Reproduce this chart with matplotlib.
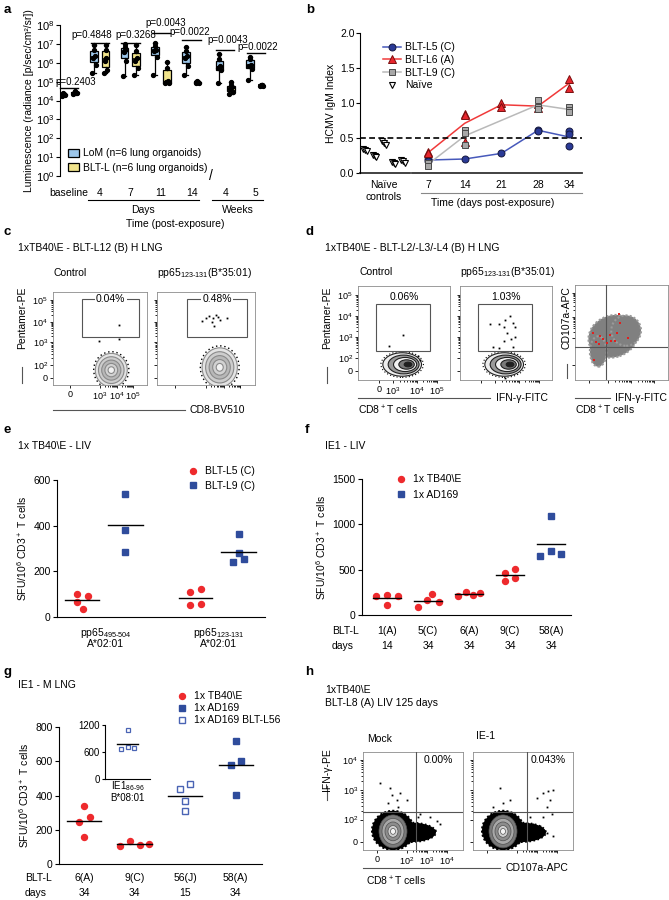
import numpy as np
import matplotlib.pyplot as plt
from matplotlib.patches import Rectangle, Ellipse
from matplotlib.lines import Line2D

plt.rcParams['font.family'] = ['Liberation Sans', 'DejaVu Sans']
plt.rcParams['font.size'] = 7.5
plt.rcParams['mathtext.fontset'] = 'custom'
plt.rcParams['mathtext.rm'] = 'Liberation Sans'
plt.rcParams['mathtext.default'] = 'regular'

# ---------------- data ----------------
# a: luminescence, six lung organoids per group
A_GROUPS = ['baseline', '4', '7', '11', '14', '4', '5']
A_LOM = [[1.8e4, 1.9e4, 2.0e4, 2.1e4, 2.3e4, 2.5e4],
         [3e5, 8e5, 1.8e6, 2.2e6, 5e6, 9e6],
         [2e5, 1.2e6, 3.5e6, 4.5e6, 7e6, 1e7],
         [2.3e5, 2e6, 4e6, 5e6, 8e6, 1.1e7],
         [2.3e5, 7e5, 1.8e6, 2.2e6, 4e6, 7e6],
         [8e4, 4e5, 5.5e5, 7e5, 1.5e6, 3e6],
         [1.2e5, 4.5e5, 7e5, 8e5, 1.6e6, 2e6]]
A_BLT = [[2.2e4, 2.4e4, 2.5e4, 2.6e4, 2.8e4, 3.0e4],
         [3e5, 4e5, 1.2e6, 1.8e6, 5e6, 9e6],
         [2.3e5, 5e5, 1.3e6, 1.8e6, 4e6, 9e6],
         [8e4, 8.5e4, 9e4, 1.1e5, 5e5, 1.1e6],
         [8e4, 8.5e4, 9e4, 9.5e4, 1e5, 1.05e5],
         [2.2e4, 2.8e4, 4e4, 5e4, 6.5e4, 1e5],
         [6e4, 6.2e4, 6.5e4, 6.5e4, 6.8e4, 7e4]]
A_PVALS = ['p=0.2403', 'p=0.4848', 'p=0.3268', 'p=0.0043', 'p=0.0022', 'p=0.0043', 'p=0.0022']
A_BRACKET = [4.5e4, 1.15e7, 1.15e7, 4e7, 1.7e7, 4.7e6, 3.2e6]
A_PTEXT_Y = [1.0e5, 3.0e7, 3.0e7, 1.25e8, 4.5e7, 1.7e7, 7.0e6]

# b: HCMV IgM index
B_DAYS = [7, 14, 21, 28, 34]
B_L5 = [[0.20, 0.17], [0.20], [0.28], [0.62, 0.60], [0.60, 0.56, 0.38]]
B_L6 = [[0.30, 0.28], [0.85, 0.83, 0.45], [1.00, 0.95], [0.98, 0.93], [1.35, 1.22]]
B_L9 = [[0.15, 0.10], [0.62, 0.57, 0.40], [], [1.05, 0.95, 0.92], [0.95, 0.90, 0.87]]
B_NAIVE = [[0.35, 0.33, 0.31], [0.26, 0.24, 0.23], [0.46, 0.43, 0.40],
           [0.16, 0.14, 0.13], [0.18, 0.17, 0.15]]

# e: SFU per 10^6 CD3+ T cells
E_EPITOPES = ['495-504', '123-131']
E_L5 = [[99, 92, 66, 34], [110, 124, 51, 56]]
E_L9 = [[539, 383, 285], [363, 282, 239, 256]]

# f
F_CATS = ['1(A)', '5(C)', '6(A)', '9(C)', '58(A)']
F_DAYS = ['14', '34', '34', '34', '34']
F_VALUES = [[210, 221, 210, 111], [92, 236, 140, 166], [214, 258, 221, 240],
            [461, 380, 508, 413], [1095, 652, 711, 674]]
F_VIRUS = ['TB40', 'TB40', 'TB40', 'TB40', 'AD169']

# g
G_CATS = ['6(A)', '9(C)', '56(J)', '58(A)']
G_DAYS = ['34', '34', '15', '34']
G_VALUES = [[337, 273, 244, 157], [105, 134, 110, 116], [436, 465, 368, 308], [721, 581, 599, 401]]
G_VIRUS = ['TB40', 'TB40', 'L56', 'AD169']
G_INSET = [1098, 656, 714, 678]

# flow cytometry gated events (fractions of plot area)
C1_EVENTS = [(0.70, 0.64), (0.49, 0.47), (0.70, 0.49)]
C2_EVENTS = [(0.46, 0.69), (0.50, 0.72), (0.53, 0.74), (0.56, 0.68), (0.58, 0.63),
             (0.62, 0.73), (0.64, 0.70), (0.71, 0.72), (0.60, 0.75), (0.57, 0.72)]
D1_EVENTS = [(0.49, 0.48), (0.34, 0.365), (0.655, 0.255), (0.674, 0.213)]
D2_EVENTS = [(0.33, 0.60), (0.42, 0.60), (0.49, 0.64), (0.54, 0.68), (0.58, 0.61),
             (0.60, 0.56), (0.48, 0.56), (0.51, 0.50), (0.60, 0.46), (0.55, 0.44),
             (0.48, 0.41), (0.36, 0.355), (0.42, 0.34), (0.58, 0.355), (0.49, 0.02)]
D3_RED = [(0.19, 0.49), (0.23, 0.40), (0.27, 0.46), (0.26, 0.38), (0.30, 0.43),
          (0.38, 0.47), (0.39, 0.41), (0.43, 0.41), (0.455, 0.50), (0.47, 0.70),
          (0.48, 0.60), (0.57, 0.445), (0.20, 0.21), (0.34, 0.39)]
H1_EVENTS = [(0.17, 0.68), (0.27, 0.63), (0.29, 0.56), (0.34, 0.51), (0.25, 0.48),
             (0.37, 0.58), (0.44, 0.51), (0.35, 0.44), (0.57, 0.37), (0.67, 0.34),
             (0.74, 0.30), (0.77, 0.27), (0.72, 0.20), (0.70, 0.17), (0.55, 0.34)]
H2_EVENTS = [(0.27, 0.63), (0.37, 0.51), (0.30, 0.48), (0.20, 0.44), (0.64, 0.53),
             (0.70, 0.58), (0.75, 0.60), (0.80, 0.61), (0.77, 0.51), (0.74, 0.44),
             (0.79, 0.37), (0.70, 0.34), (0.57, 0.34), (0.60, 0.27), (0.52, 0.22),
             (0.67, 0.24), (0.80, 0.14), (0.74, 0.17)]

RED = '#ee2a2d'
BLUE = '#2f4c9c'
LOM_C = '#9cc6ea'
BLT_C = '#f1e48c'

W, H = 669, 900
fig = plt.figure(figsize=(6.69, 9.0), dpi=100)


def box(x0, y0, x1, y1):
    return fig.add_axes([x0 / W, 1 - y1 / H, (x1 - x0) / W, (y1 - y0) / H])


def ftext(x, y, s, **kw):
    kw.setdefault('va', 'center')
    fig.text(x / W, 1 - y / H, s, **kw)


def fline(x0, x1, y0, y1, **kw):
    fig.add_artist(Line2D([x0 / W, x1 / W], [1 - y0 / H, 1 - y1 / H], color=kw.get('color', '#555555'),
                          lw=kw.get('lw', 0.8)))


for lab, (x, y) in zip('abcdefgh', [(4, 10), (306, 10), (4, 232), (305, 232),
                                     (4, 430), (305, 430), (4, 672), (305, 672)]):
    ftext(x, y, lab, fontsize=9.5, fontweight='bold')

# ---------------- a ----------------
ax = box(60, 25, 268, 176)
pos = np.array([0, 1, 2, 3, 4, 5.1, 6.1])
ptext_x = pos + np.array([0.23, -0.25, 0.18, 0.15, -0.07, 0.08, 0.08])
common = dict(widths=0.25, whis=(0, 100), patch_artist=True, showfliers=False,
              medianprops=dict(color='k', lw=1.2), whiskerprops=dict(color='k', lw=0.9),
              capprops=dict(color='k', lw=0.9))
ax.boxplot(A_LOM, positions=pos - 0.19, boxprops=dict(facecolor=LOM_C, edgecolor='k', lw=0.9), **common)
ax.boxplot(A_BLT, positions=pos + 0.19, boxprops=dict(facecolor=BLT_C, edgecolor='k', lw=0.9), **common)
jit = np.array([-0.06, 0.06, -0.03, 0.03, 0.0, 0.0])
for p, lv, bv in zip(pos, A_LOM, A_BLT):
    ax.plot(p - 0.19 + jit, lv, 'o', color='k', ms=2.8, zorder=5)
    ax.plot(p + 0.19 + jit, bv, 'o', color='k', ms=2.8, zorder=5)
for p, tx, s, yb, yt in zip(pos, ptext_x, A_PVALS, A_BRACKET, A_PTEXT_Y):
    ax.plot([p - 0.3, p + 0.3], [yb, yb], color='k', lw=1, clip_on=False)
    ax.text(tx, yt, s, ha='center', va='center', fontsize=7, clip_on=False)
ax.set_yscale('log')
ax.set_ylim(1, 1e8)
ax.set_yticks([10.0 ** k for k in range(9)])
ax.minorticks_off()
ax.set_xlim(-0.3, 6.5)
ax.set_xticks(pos)
ax.set_xticklabels(A_GROUPS)
ax.tick_params(axis='x', length=0, pad=9, labelsize=7.5)
ax.tick_params(axis='y', labelsize=8, length=3, pad=1)
for s in ['top', 'right', 'bottom']:
    ax.spines[s].set_visible(False)
ax.set_ylabel('Luminescence (radiance [p/sec/cm²/sr])', fontsize=7.5, labelpad=1)
tr = ax.get_xaxis_transform()
ax.text(4.62, 0, '/', transform=tr, ha='center', va='center', fontsize=10)
ax.plot([0.62, 4.23], [-0.159, -0.159], color='k', lw=0.8, transform=tr, clip_on=False)
ax.plot([4.66, 6.33], [-0.159, -0.159], color='k', lw=0.8, transform=tr, clip_on=False)
ax.text(2.42, -0.225, 'Days', transform=tr, ha='center', va='center')
ax.text(5.5, -0.225, 'Weeks', transform=tr, ha='center', va='center')
ax.text(3.48, -0.318, 'Time (post-exposure)', transform=tr, ha='center', va='center')
hand = [Rectangle((0, 0), 1, 1, fc=LOM_C, ec='k', lw=0.9), Rectangle((0, 0), 1, 1, fc=BLT_C, ec='k', lw=0.9)]
fig.legend(hand, ['LoM (n=6 lung organoids)', 'BLT-L (n=6 lung organoids)'], loc='upper left',
           bbox_to_anchor=(63 / W, 1 - 143 / H), frameon=False, fontsize=7.5, borderpad=0,
           handlelength=1.0, handleheight=0.8, handletextpad=0.4, labelspacing=0.45)

# ---------------- b ----------------
ax = box(360, 33, 582, 173)
ax.set_xlim(-6, 36.4)
ax.set_ylim(0, 2)
styles = [(B_L5, 'BLT-L5 (C)', 'o', '#2a3a96', '#15183f', '#4759bb', 5),
          (B_L6, 'BLT-L6 (A)', '^', '#e8262d', '#7a0e0e', '#f03a3a', 5.5),
          (B_L9, 'BLT-L9 (C)', 's', '#a8a8a8', '#4a4a4a', '#b9b9b9', 5)]
hand = []
for vals, lab, mk, fc, ec, lc, ms in styles:
    dx = [d for d, v in zip(B_DAYS, vals) if v]
    my = [np.mean(v) for v in vals if v]
    ax.plot(dx, my, color=lc, lw=1.1, zorder=2)
    for d, v in zip(B_DAYS, vals):
        ax.plot([d] * len(v), v, mk, mfc=fc, mec=ec, ms=ms, mew=0.7, ls='none', zorder=3)
    hand.append(Line2D([], [], color=lc, lw=1.1, marker=mk, mfc=fc, mec=ec, ms=ms, mew=0.7))
for i, v in enumerate(B_NAIVE):
    ax.plot(-5 + 1.8 * i + np.array([-0.35, 0, 0.35]), v, 'v', mfc='white', mec='k', ms=4.5, mew=0.8, ls='none')
hand.append(Line2D([], [], ls='none', marker='v', mfc='white', mec='k', ms=5, mew=0.8))
ax.axhline(0.5, color='k', lw=1.2, ls=(0, (3.5, 2)))
ax.legend(hand, ['BLT-L5 (C)', 'BLT-L6 (A)', 'BLT-L9 (C)', 'Naïve'], loc='upper left',
          bbox_to_anchor=(0.08, 0.97), frameon=False, fontsize=7.5, borderpad=0,
          handlelength=1.7, handletextpad=0.4, labelspacing=0.25)
for s in ['top', 'right', 'bottom']:
    ax.spines[s].set_visible(False)
ax.plot([-6, 3.56], [0, 0], color='#333333', lw=1.3, clip_on=False)
ax.plot([3.95, 36.4], [0, 0], color='#333333', lw=1.3, clip_on=False)
ax.set_yticks([0, 0.5, 1, 1.5, 2])
ax.set_yticklabels(['0.0', '0.5', '1.0', '1.5', '2.0'])
ax.set_xticks([-1.4] + B_DAYS)
ax.set_xticklabels(['Naïve\ncontrols'] + [str(d) for d in B_DAYS])
ax.tick_params(axis='x', length=0, pad=5)
ax.tick_params(axis='y', length=3, pad=1)
ax.set_ylabel('HCMV IgM Index', labelpad=3)
tr = ax.get_xaxis_transform()
ax.plot([5.66, 36.4], [-0.143, -0.143], color='#888888', lw=0.8, transform=tr, clip_on=False)
ax.text(19.4, -0.214, 'Time (days post-exposure)', transform=tr, ha='center', va='center')


# ---------------- flow helpers ----------------
def minor_pos(t):
    out = []
    for i in range(1, len(t) - 1):
        out += [t[i] + (t[i + 1] - t[i]) * np.log10(k) for k in range(2, 10)]
    return out


def flow(x0, y0, x1, y1, xt, yt, xl=None, yl=None):
    a = box(x0, y0, x1, y1)
    a.set_xlim(0, 1)
    a.set_ylim(0, 1)
    for s in a.spines.values():
        s.set_color('#8c8c8c')
        s.set_linewidth(0.6)
    a.set_xticks(xt)
    a.set_yticks(yt)
    a.set_xticks(minor_pos(xt), minor=True)
    a.set_yticks(minor_pos(yt), minor=True)
    a.tick_params(which='both', direction='out', length=2.2, width=0.6, color='k', labelsize=6.5, pad=1.5)
    a.tick_params(which='minor', length=1.3)
    a.set_xticklabels(xl if xl else [])
    a.set_yticklabels(yl if yl else [])
    return a


def contour(a, cx, cy, w, h, n, ring, fill, halo, shift=0.0, halo_lw=1.0):
    a.add_patch(Ellipse((cx, cy), w * 1.1, h * 1.1, fc='none', ec=halo, lw=halo_lw, ls=(0, (1, 2)), zorder=2))
    for i in range(n):
        f = 1 - i / n
        a.add_patch(Ellipse((cx + shift * (1 - f), cy), w * f, h * f, fc=fill[i % len(fill)],
                            ec=ring, lw=0.8, zorder=3 + i))


def dots(a, pts, color='k', ms=1.3):
    a.plot([p[0] for p in pts], [p[1] for p in pts], 's', color=color, ms=ms, mew=0, ls='none', zorder=20)


def pct(a, x, y, s, bg=True):
    a.text(x, y, s, ha='center', va='center', fontsize=7.5, zorder=30,
           bbox=dict(fc='white', ec='none', pad=0.8) if bg else None)


LOGX = ['0', '$10^3$', '$10^4$', '$10^5$']
LOGY = ['0', '$10^2$', '$10^3$', '$10^4$', '$10^5$']
GREYS = ['#e4e4e4', '#cdcdcd', '#b8b8b8', '#d2d2d2', '#f2f2f2']

# ---------------- c ----------------
ftext(18, 248, r'1xTB40\E - BLT-L12 (B) H LNG')
ftext(53, 273, 'Control')
ftext(157, 273, 'pp65$_{123\u2010131}$(B*35:01)')
cxt = [0.18, 0.50, 0.68, 0.85]
cyt = [0.08, 0.215, 0.459, 0.68, 0.914]
for k, (x0, x1, ev, lab) in enumerate([(53, 147, C1_EVENTS, '0.04%'), (157, 255, C2_EVENTS, '0.48%')]):
    a = flow(x0, 292, x1, 385, cxt, cyt, LOGX if k == 0 else None, LOGY if k == 0 else None)
    a.add_patch(Rectangle((0.31, 0.52), 0.61, 0.40, fc='none', ec='#555555', lw=0.8, zorder=10))
    pct(a, 0.615, 0.92, lab)
    if k == 0:
        contour(a, 0.62, 0.16, 0.34, 0.36, 5, '#8a8a8a', GREYS, 'k')
    else:
        contour(a, 0.64, 0.19, 0.36, 0.42, 5, '#8a8a8a', GREYS, 'k')
    dots(a, ev)
ftext(22, 318, 'Pentamer-PE', rotation=90, ha='center')
fline(22, 22, 367, 383)
fline(53, 185, 410, 410)
ftext(190, 410, 'CD8-BV510')

# ---------------- d ----------------
ftext(325, 248, r'1xTB40\E - BLT-L2/-L3/-L4 (B) H LNG')
ftext(360, 272, 'Control')
ftext(460, 272, 'pp65$_{123\u2010131}$(B*35:01)')
dxt = [0.23, 0.38, 0.64, 0.86]
dyt = [0.10, 0.23, 0.46, 0.68, 0.90]
for k, (x0, x1, ev, lab) in enumerate([(358, 450, D1_EVENTS, '0.06%'), (460, 552, D2_EVENTS, '1.03%')]):
    a = flow(x0, 286, x1, 380, dxt, dyt, LOGX if k == 0 else None, LOGY if k == 0 else None)
    a.add_patch(Rectangle((0.20, 0.31), 0.58, 0.50, fc='none', ec='#555555', lw=0.8, zorder=10))
    pct(a, 0.50, 0.885, lab, bg=False)
    contour(a, 0.48, 0.165, 0.42, 0.25, 5, '#202020', ['#ededed', '#9a9a9a', '#f2f2f2', '#7a7a7a', '#202020'], 'k',
            shift=0.08, halo_lw=0.8)
    dots(a, ev)
ftext(327, 318, 'Pentamer-PE', rotation=90, ha='center')
fline(327, 327, 367, 383)
fline(358, 490, 398, 398)
ftext(496, 398, 'IFN-γ-FITC')
ftext(358, 410, 'CD8$^+$T cells')
a = flow(575, 285, 668, 380, [0.15, 0.35, 0.6, 0.85], [0.16, 0.44, 0.66, 0.92])
for (cx, cy, w, h, ang) in [(0.41, 0.46, 0.54, 0.44, 18), (0.25, 0.30, 0.18, 0.32, 0), (0.55, 0.52, 0.32, 0.32, 0)]:
    a.add_patch(Ellipse((cx, cy), w, h, angle=ang, fc='#808080', ec='#9a9a9a', lw=1.5, ls=(0, (1, 1)), zorder=2))
a.axvline(0.33, color='#555555', lw=0.8, zorder=10)
a.axhline(0.35, color='#555555', lw=0.8, zorder=10)
dots(a, D3_RED, color='#e0201e', ms=2.0)
ftext(567, 318, 'CD107a-APC', rotation=90, ha='center')
fline(567, 567, 364, 378)
fline(575, 610, 398, 398)
ftext(615, 398, 'IFN-γ-FITC')
ftext(575, 410, 'CD8$^+$T cells')


# ---------------- e/f/g ----------------
def dot_axes(x0, y0, x1, y1, ymax, ystep, xlim):
    a = box(x0, y0, x1, y1)
    a.set_ylim(0, ymax)
    a.set_yticks(np.arange(0, ymax + 1, ystep))
    a.set_xlim(*xlim)
    a.set_xticks([])
    for s in ['top', 'right']:
        a.spines[s].set_visible(False)
    a.tick_params(axis='y', length=3, width=0.8, pad=1.5, labelsize=7.5)
    a.set_ylabel('SFU/10$^6$ CD3$^+$ T cells', labelpad=3)
    return a


def group(a, x, vals, offs, mk, fc, ec, ms, hw):
    a.plot(x + np.array(offs[:len(vals)]), vals, mk, mfc=fc, mec=ec, ms=ms, mew=1.0, ls='none', zorder=3)
    a.plot([x - hw, x + hw], [np.mean(vals)] * 2, color='k', lw=1.0, zorder=4)


# e
ftext(18, 446, r'1x TB40\E - LIV')
ax = dot_axes(57, 480, 265, 617, 600, 200, (-0.57, 4.16))
for i in range(2):
    group(ax, 2.58 * i, E_L5[i], [-0.12, 0.13, -0.12, 0.02] if i == 0 else [-0.12, 0.12, -0.12, 0.12],
          'o', RED, RED, 4.3, 0.38)
    group(ax, 2.58 * i + 0.98, E_L9[i], [0, 0, 0] if i == 0 else [0, 0, -0.13, 0.12], 's', BLUE, BLUE, 3.9, 0.4)
    ax.text(2.58 * i + 0.53, -0.115, 'pp65$_{%s}$' % E_EPITOPES[i].replace('-', '\u2010'),
            transform=ax.get_xaxis_transform(), ha='center', va='center')
    ax.text(2.58 * i + 0.53, -0.195, 'A*02:01', transform=ax.get_xaxis_transform(), ha='center', va='center')
hand = [Line2D([], [], ls='none', marker='o', color=RED, ms=4.3),
        Line2D([], [], ls='none', marker='s', color=BLUE, ms=3.9)]
fig.legend(hand, ['BLT-L5 (C)', 'BLT-L9 (C)'], loc='upper left', bbox_to_anchor=(183 / W, 1 - 461 / H),
           frameon=False, fontsize=7.5, borderpad=0, handlelength=1.0, handletextpad=0.6, labelspacing=0.45)

# f
ftext(325, 446, 'IE1 - LIV')
ax = dot_axes(362, 479, 571, 615, 1500, 500, (-0.61, 4.49))
foffs = [[-0.26, 0, 0.26, 0], [-0.25, 0.11, 0.26, -0.02], [-0.27, -0.08, 0.1, 0.27],
         [-0.13, -0.13, 0.13, 0.13], [0, -0.27, 0, 0.24]]
for i, (vals, vir) in enumerate(zip(F_VALUES, F_VIRUS)):
    if vir == 'AD169':
        group(ax, i, vals, foffs[i], 's', BLUE, BLUE, 3.9, 0.35)
    else:
        group(ax, i, vals, foffs[i], 'o', RED, RED, 4.3, 0.35)
    ax.text(i, -0.118, F_CATS[i], transform=ax.get_xaxis_transform(), ha='center', va='center')
    ax.text(i, -0.228, F_DAYS[i], transform=ax.get_xaxis_transform(), ha='center', va='center')
ftext(332, 631, 'BLT-L')
ftext(332, 646, 'days')
fig.legend(hand, [r'1x TB40\E', '1x AD169'], loc='upper left', bbox_to_anchor=(391 / W, 1 - 469 / H),
           frameon=False, fontsize=7.5, borderpad=0, handlelength=1.0, handletextpad=0.6, labelspacing=0.55)

# g
ftext(18, 685, 'IE1 - M LNG')
ax = dot_axes(59, 727, 262, 864, 800, 200, (-0.495, 3.52))
goffs = [[0, 0.11, -0.1, 0], [-0.28, -0.09, 0.1, 0.28], [-0.1, 0.1, 0, 0], [0, -0.1, 0.1, 0]]
for i, (vals, vir) in enumerate(zip(G_VALUES, G_VIRUS)):
    if vir == 'AD169':
        group(ax, i, vals, goffs[i], 's', BLUE, BLUE, 3.9, 0.34)
    elif vir == 'L56':
        group(ax, i, vals, goffs[i], 's', 'white', '#4a64b4', 4.2, 0.34)
    else:
        group(ax, i, vals, goffs[i], 'o', RED, RED, 4.3, 0.34)
    ax.text(i, -0.102, G_CATS[i], transform=ax.get_xaxis_transform(), ha='center', va='center')
    ax.text(i, -0.212, G_DAYS[i], transform=ax.get_xaxis_transform(), ha='center', va='center')
ftext(25, 878, 'BLT-L')
ftext(25, 893, 'days')
ghand = hand + [Line2D([], [], ls='none', marker='s', mfc='white', mec='#4a64b4', mew=1.0, ms=4.2)]
fig.legend(ghand, [r'1x TB40\E', '1x AD169', '1x AD169 BLT-L56'], loc='upper left',
           bbox_to_anchor=(172 / W, 1 - 686 / H), frameon=False, fontsize=7.5, borderpad=0,
           handlelength=1.0, handletextpad=0.6, labelspacing=0.2)
ins = box(105, 725, 150, 779)
ins.set_ylim(0, 1200)
ins.set_xlim(-1, 1)
ins.set_yticks([0, 600, 1200])
ins.set_xticks([])
for s in ['top', 'right']:
    ins.spines[s].set_visible(False)
ins.tick_params(axis='y', length=2.5, pad=1, labelsize=7)
ins.plot(np.array([0, -0.3, 0, 0.3]), G_INSET, 's', mfc='white', mec='#4a64b4', ms=3.2, mew=0.9, ls='none')
ins.plot([-0.47, 0.47], [np.mean(G_INSET)] * 2, color='k', lw=1.0)
ins.text(0.5, -0.14, 'IE1$_{86\u201096}$', transform=ins.transAxes, ha='center', va='center', fontsize=7)
ins.text(0.5, -0.36, 'B*08:01', transform=ins.transAxes, ha='center', va='center', fontsize=7)

# ---------------- h ----------------
ftext(325, 690, r'1xTB40\E')
ftext(325, 703, 'BLT-L8 (A) LIV 125 days')
ftext(367, 739, 'Mock')
ftext(476, 736, 'IE-1')
hxt = [0.137, 0.437, 0.637, 0.837]
hyt = [0.085, 0.31, 0.61, 0.92]
for k, (x0, x1, ev, lab, qx) in enumerate([(363, 463, H1_EVENTS, '0.00%', 0.53), (473, 573, H2_EVENTS, '0.043%', 0.537)]):
    a = flow(x0, 752, x1, 850, hxt, hyt,
             ['0', '$10^2$', '$10^3$', '$10^4$'] if k == 0 else None,
             ['0', '$10^2$', '$10^3$', '$10^4$'] if k == 0 else None)
    a.add_patch(Ellipse((0.30, 0.20), 0.42, 0.40, fc='k', ec='k', lw=1.5, ls=(0, (1, 1)), zorder=2))
    a.add_patch(Ellipse((0.48, 0.18), 0.50, 0.20, fc='k', ec='k', lw=1.2, ls=(0, (1, 1.5)), zorder=2))
    for i, (f, c) in enumerate([(0.28, '#7a7a7a'), (0.22, '#a8a8a8'), (0.16, '#8c8c8c'), (0.10, '#cfcfcf'),
                                (0.05, '#f4f4f4')]):
        a.add_patch(Ellipse((0.30, 0.19), f, f * 1.2, fc=c, ec='#505050', lw=0.5, zorder=4 + i))
    a.axvline(qx, color='#555555', lw=0.8, zorder=10)
    a.axhline(0.39, color='#555555', lw=0.8, zorder=10)
    pct(a, 0.75, 0.92, lab, bg=False)
    dots(a, ev)
ftext(327, 770, 'IFN-γ-PE', rotation=90, ha='center')
fline(327, 327, 786, 800)
fline(363, 500, 868, 868)
ftext(505, 868, 'CD107a-APC')
ftext(366, 881, 'CD8$^+$T cells')

fig.savefig('out.png', dpi=100)
